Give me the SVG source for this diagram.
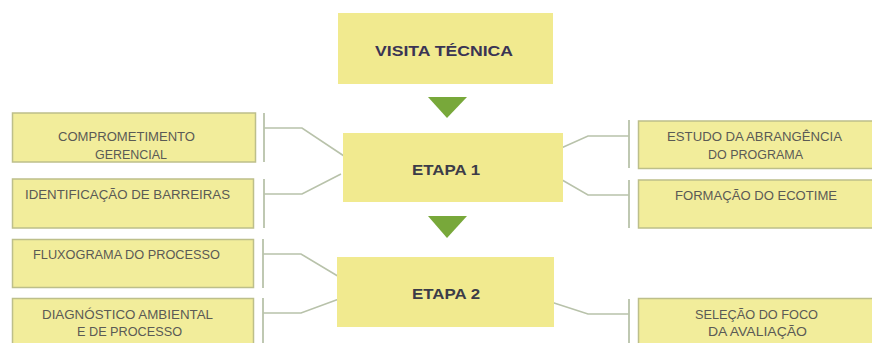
<svg xmlns="http://www.w3.org/2000/svg" width="872" height="343" viewBox="0 0 872 343">
<style>
.box{fill:#f2ed9b;stroke:#bdbf8a;stroke-width:1.5}
.main{fill:#f1ea8f}
.conn{fill:none;stroke:#b8c2aa;stroke-width:1.6}
.bar{stroke:#b8c2aa;stroke-width:1.8}
.tri{fill:#78a83a}
.t{font-family:"Liberation Sans",Arial,sans-serif;font-size:12px;fill:#5a5a55;text-anchor:middle}
.h{font-family:"Liberation Sans",Arial,sans-serif;font-size:15px;font-weight:bold;fill:#3a3454;text-anchor:middle}
.e{font-family:"Liberation Sans",Arial,sans-serif;font-size:14px;font-weight:bold;fill:#3c3c48;text-anchor:middle}
</style>
<rect width="872" height="343" fill="#ffffff"/>
<g id="connectors">
<polyline class="conn" points="264,128 302,128 344,156"/>
<polyline class="conn" points="264,194 302,194 341,174"/>
<polyline class="conn" points="263,254 301,254 341,278"/>
<polyline class="conn" points="263,313 301,313 339,299"/>
<polyline class="conn" points="550,153 588,136 629,136"/>
<polyline class="conn" points="550,173 588,195 629,195"/>
<polyline class="conn" points="551,302 588,314 629,314"/>
<line class="bar" x1="264" y1="113" x2="264" y2="162"/>
<line class="bar" x1="264" y1="179" x2="264" y2="228"/>
<line class="bar" x1="263" y1="239" x2="263" y2="288"/>
<line class="bar" x1="263" y1="298" x2="263" y2="343"/>
<line class="bar" x1="629" y1="120" x2="629" y2="168"/>
<line class="bar" x1="629" y1="180" x2="629" y2="228"/>
<line class="bar" x1="629" y1="299" x2="629" y2="343"/>
<polygon class="tri" points="428,97 467,97 447,118"/>
<polygon class="tri" points="428,216 467,216 447,238"/>
</g>
<g id="visita">
<rect class="main" x="338" y="13" width="215" height="71"/>
<text class="h" x="444" y="56" textLength="138" lengthAdjust="spacingAndGlyphs">VISITA TÉCNICA</text>
</g>
<g id="etapa1">
<rect class="main" x="343" y="133" width="220" height="69"/>
<text class="e" x="446" y="175" textLength="68" lengthAdjust="spacingAndGlyphs">ETAPA 1</text>
</g>
<g id="etapa2">
<rect class="main" x="337" y="257" width="217" height="70"/>
<text class="e" x="446" y="299" textLength="68" lengthAdjust="spacingAndGlyphs">ETAPA 2</text>
</g>
<g id="comprometimento">
<rect class="box" x="12.5" y="113" width="243" height="49"/>
<text class="t" x="126.5" y="141" textLength="137" lengthAdjust="spacingAndGlyphs">COMPROMETIMENTO</text>
<text class="t" x="131" y="159" textLength="72" lengthAdjust="spacingAndGlyphs">GERENCIAL</text>
</g>
<g id="barreiras">
<rect class="box" x="12.5" y="179" width="241" height="49"/>
<text class="t" x="127.5" y="199" textLength="205" lengthAdjust="spacingAndGlyphs">IDENTIFICAÇÃO DE BARREIRAS</text>
</g>
<g id="fluxograma">
<rect class="box" x="12.5" y="239.5" width="241" height="48"/>
<text class="t" x="126.5" y="259" textLength="187" lengthAdjust="spacingAndGlyphs">FLUXOGRAMA DO PROCESSO</text>
</g>
<g id="diagnostico">
<rect class="box" x="12.5" y="298.5" width="241" height="60"/>
<text class="t" x="127.5" y="319" textLength="171" lengthAdjust="spacingAndGlyphs">DIAGNÓSTICO AMBIENTAL</text>
<text class="t" x="129.5" y="336" textLength="105" lengthAdjust="spacingAndGlyphs">E DE PROCESSO</text>
</g>
<g id="estudo">
<rect class="box" x="638.5" y="121" width="250" height="47.5"/>
<text class="t" x="754.5" y="141" textLength="175" lengthAdjust="spacingAndGlyphs">ESTUDO DA ABRANGÊNCIA</text>
<text class="t" x="755.5" y="159" textLength="95" lengthAdjust="spacingAndGlyphs">DO PROGRAMA</text>
</g>
<g id="ecotime">
<rect class="box" x="638.5" y="180" width="250" height="48"/>
<text class="t" x="756" y="200" textLength="162" lengthAdjust="spacingAndGlyphs">FORMAÇÃO DO ECOTIME</text>
</g>
<g id="selecao">
<rect class="box" x="638.5" y="298.5" width="250" height="60"/>
<text class="t" x="756.5" y="319" textLength="123" lengthAdjust="spacingAndGlyphs">SELEÇÃO DO FOCO</text>
<text class="t" x="757.5" y="336" textLength="99" lengthAdjust="spacingAndGlyphs">DA AVALIAÇÃO</text>
</g>
</svg>
